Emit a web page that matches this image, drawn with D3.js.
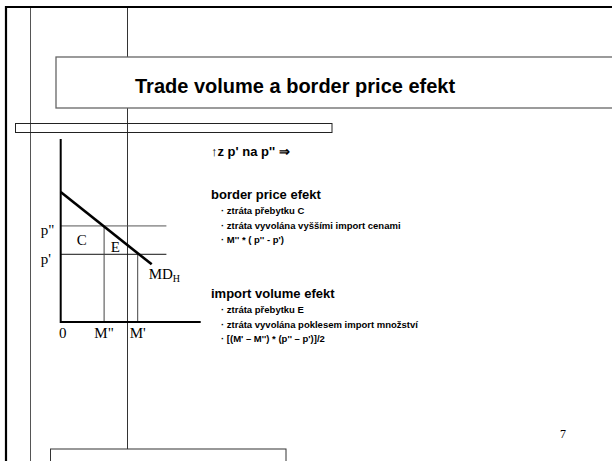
<!DOCTYPE html>
<html>
<head>
<meta charset="utf-8">
<script src="https://cdn.jsdelivr.net/npm/d3@7"></script>
<style>
  body { margin: 0; background: #fff; }
  svg { display: block; }
</style>
</head>
<body>
<div id="slide"></div>
<script>
// demand curve MD_H (quantity, price)
const demandMD = [
  { q: 0, p: 71 },
  { q: 65, p: 31.5 }
];
// price levels
const prices = [
  { label: 'p"', value: 52.5 },
  { label: "p'", value: 37 }
];
// import quantities
const quantities = [
  { label: '0', value: 0 },
  { label: 'M"', value: 31 },
  { label: "M'", value: 55 }
];
// area labels
const areaLabels = [
  { label: "C", q: 15, p: 45.5 },
  { label: "E", q: 39, p: 41.5 }
];
const priceLineEnd = 75.5;

const titleText = "Trade volume a border price efekt";
const introText = "\u2191z p' na p'' \u21D2";
const groups = [
  {
    head: "border price efekt",
    items: ["ztr\u00e1ta p\u0159ebytku C", "ztr\u00e1ta vyvol\u00e1na vy\u0161\u0161\u00edmi import cenami", "M'' * ( p'' - p')"]
  },
  {
    head: "import volume efekt",
    items: ["ztr\u00e1ta p\u0159ebytku E", "ztr\u00e1ta vyvol\u00e1na poklesem import mno\u017estv\u00ed", "[(M' \u2013 M'') * (p'' \u2013 p')]/2"]
  }
];
const pageNumber = "7";

const W = 612, H = 461;
const sans = "'Liberation Sans', Arial, sans-serif";
const serif = "'Liberation Serif', 'Times New Roman', serif";

const svg = d3.select("#slide").append("svg")
  .attr("width", W)
  .attr("height", H);

svg.append("rect").attr("width", W).attr("height", H).attr("fill", "#fff");

// slide decoration lines
svg.append("line").attr("x1", 30.5).attr("x2", 30.5).attr("y1", 7).attr("y2", H)
  .attr("stroke", "#555").attr("stroke-width", 1);
svg.append("line").attr("x1", 127.5).attr("x2", 127.5).attr("y1", 7).attr("y2", 449)
  .attr("stroke", "#333").attr("stroke-width", 1);

// title box
svg.append("rect").attr("x", 56).attr("y", 57).attr("width", W).attr("height", 51)
  .attr("fill", "#fff").attr("stroke", "#666").attr("stroke-width", 1.3);
svg.append("text").attr("x", 135).attr("y", 92.5)
  .attr("font-family", sans).attr("font-weight", "bold").attr("font-size", 20)
  .text(titleText);

// thin bar below title
svg.append("rect").attr("x", 15.5).attr("y", 123.5).attr("width", 316.5).attr("height", 9)
  .attr("fill", "none").attr("stroke", "#222").attr("stroke-width", 1);

// bottom box
svg.append("rect").attr("x", 50.5).attr("y", 449).attr("width", 235.5).attr("height", 40)
  .attr("fill", "#fff").attr("stroke", "#333").attr("stroke-width", 1);

// outer frame
svg.append("path").attr("d", `M6,${H} V7 H${W}`)
  .attr("fill", "none").attr("stroke", "#000").attr("stroke-width", 2.2);

// diagram
const x = d3.scaleLinear().domain([0, 100]).range([60.7, 200.7]);
const y = d3.scaleLinear().domain([0, 100]).range([322, 139]);
const g = svg.append("g");

// price lines
g.selectAll(".price").data(prices).enter().append("line")
  .attr("x1", x(0)).attr("x2", x(priceLineEnd))
  .attr("y1", d => y(d.value)).attr("y2", d => y(d.value))
  .attr("stroke", (d, i) => i === 0 ? "#555" : "#111").attr("stroke-width", 1);

// quantity drops
g.selectAll(".qty").data(quantities.slice(1)).enter().append("line")
  .attr("x1", d => x(d.value)).attr("x2", d => x(d.value))
  .attr("y1", (d, i) => y(prices[i].value)).attr("y2", y(0))
  .attr("stroke", "#444").attr("stroke-width", 1);

// axes
g.append("path").attr("d", `M${x(0)},${y(100)} V${y(0)} H${x(100)}`)
  .attr("fill", "none").attr("stroke", "#000").attr("stroke-width", 2);

// demand line
g.append("path")
  .attr("d", d3.line().x(d => x(d.q)).y(d => y(d.p))(demandMD))
  .attr("fill", "none").attr("stroke", "#000").attr("stroke-width", 2.6);

// labels
g.selectAll(".plab").data(prices).enter().append("text")
  .attr("x", x(0) - 20).attr("y", d => y(d.value) + 9.5)
  .attr("font-family", serif).attr("font-size", 15)
  .text(d => d.label);
g.selectAll(".qlab").data(quantities).enter().append("text")
  .attr("x", d => x(d.value) + (d.value === 0 ? 2 : 0)).attr("y", y(0) + 15.5)
  .attr("text-anchor", "middle")
  .attr("font-family", serif).attr("font-size", 15)
  .text(d => d.label);
g.selectAll(".alab").data(areaLabels).enter().append("text")
  .attr("x", d => x(d.q)).attr("y", d => y(d.p) + 6)
  .attr("text-anchor", "middle")
  .attr("font-family", serif).attr("font-size", 15)
  .text(d => d.label);
const last = demandMD[demandMD.length - 1];
const md = g.append("text")
  .attr("x", x(last.q) - 3).attr("y", y(last.p) + 14.5)
  .attr("font-family", serif).attr("font-size", 15);
md.append("tspan").text("MD");
md.append("tspan").attr("dy", 3).attr("font-size", 10).text("H");

// right text block
const tx = svg.append("g").attr("font-family", sans).attr("font-weight", "bold").attr("fill", "#000");
tx.append("text").attr("x", 211).attr("y", 156).attr("font-size", 13).text(introText);
const headY = [199, 298];
groups.forEach((grp, gi) => {
  tx.append("text").attr("x", 211).attr("y", headY[gi]).attr("font-size", 13).text(grp.head);
  grp.items.forEach((it, ii) => {
    const t = tx.append("text").attr("x", 221).attr("y", headY[gi] + 15 + ii * 14.5).attr("font-size", 9.5);
    t.append("tspan").text("\u00b7 ");
    t.append("tspan").text(it);
  });
});

svg.append("text").attr("x", 560).attr("y", 438)
  .attr("font-family", serif).attr("font-size", 12).text(pageNumber);
</script>
</body>
</html>
